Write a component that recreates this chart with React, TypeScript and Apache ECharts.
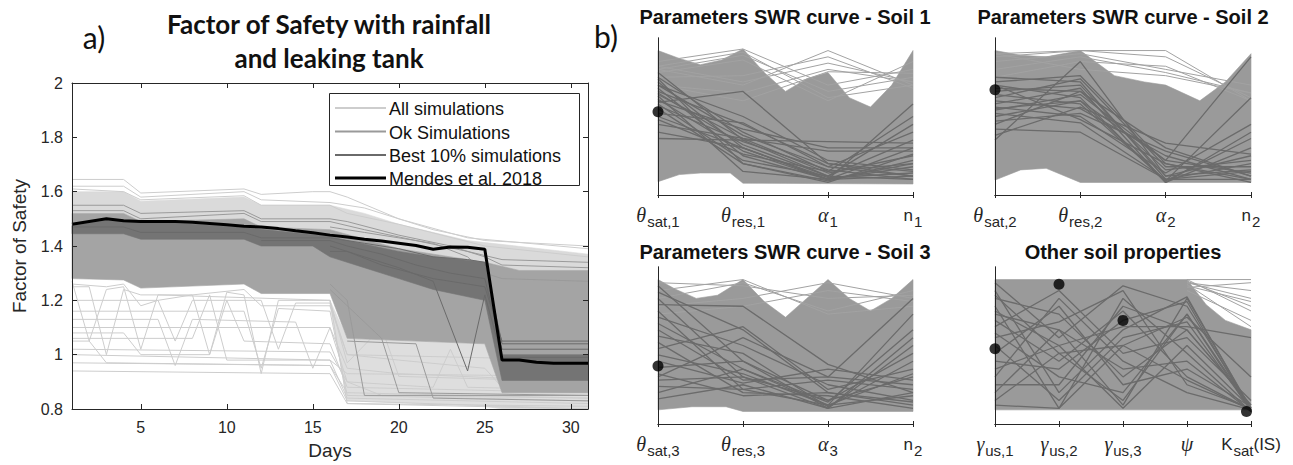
import { useEffect, useRef } from "react";
import * as echarts from "echarts";

// ---------------- Panel a) : Factor of Safety ----------------
const dayTicks = [5, 10, 15, 20, 25, 30];
const fsTicksFmt = (v: number) => String(+v.toFixed(1));

const mendes = [1.48, 1.49, 1.5, 1.493, 1.49, 1.49, 1.49, 1.487, 1.483, 1.478, 1.473, 1.47, 1.464, 1.456, 1.449, 1.44, 1.433, 1.425, 1.418, 1.41, 1.402, 1.388, 1.396, 1.395, 1.388, 0.98, 0.98, 0.972, 0.968, 0.968, 0.968];

// envelopes of the simulation clouds ([day, FS])
const allUpperTop = [[1, 1.6], [4, 1.6], [5, 1.565], [11, 1.58], [12, 1.55], [16, 1.55], [18, 1.52], [20, 1.48], [24, 1.42], [31, 1.37]];
const okTop = [[1, 1.52], [4, 1.52], [5, 1.49], [11, 1.5], [12, 1.47], [16, 1.46], [20, 1.39], [25, 1.34], [27, 1.31], [31, 1.31]];
const okBottom = [[1, 1.28], [4, 1.275], [5, 1.245], [11, 1.26], [12, 1.225], [16, 1.225], [17, 1.06], [25, 1.04], [26, 0.86], [31, 0.86]];
const allLowerTop = [[16, 1.2], [17, 1.06], [25, 1.04], [26, 0.86], [31, 0.86]];
const allLowerBottom = [[16, 1.18], [17, 0.83], [25, 0.81], [26, 0.8], [31, 0.8]];
const bestTop = [[1, 1.475], [3, 1.495], [7, 1.485], [11, 1.468], [16, 1.435], [17, 1.42], [20, 1.38], [22, 1.36], [25, 1.34], [26, 1.0], [31, 1.0]];
const bestBottom = [[1, 1.445], [4, 1.445], [5, 1.425], [11, 1.425], [12, 1.4], [15, 1.4], [16, 1.36], [18, 1.32], [20, 1.28], [22, 1.24], [25, 1.2], [26, 0.905], [31, 0.905]];

// individual light ("All simulations") lines
const allLines = [
  [[1, 1.645], [4, 1.645], [5, 1.595], [11, 1.61], [12, 1.59], [15, 1.6], [16, 1.6], [17, 1.58], [20, 1.5], [24, 1.43], [31, 1.39]],
  [[1, 1.62], [4, 1.62], [5, 1.58], [11, 1.6], [12, 1.57], [16, 1.56], [18, 1.54], [22, 1.46], [25, 1.42], [31, 1.4]],
  [[1, 1.61], [4, 1.6], [5, 1.57], [11, 1.585], [12, 1.55], [16, 1.55], [17, 1.52], [20, 1.48], [25, 1.4], [31, 1.36]],
  [[1, 1.26], [3, 1.25], [4, 1.26], [5, 1.18], [6, 1.2], [8, 1.22], [11, 1.24], [12, 1.18], [16, 1.18], [17, 1.0], [20, 0.98], [25, 0.95], [26, 0.88], [31, 0.86]],
  [[1, 1.25], [2, 1.25], [3, 1.0], [4, 1.24], [5, 1.22], [8, 1.22], [9, 1.0], [10, 1.23], [11, 1.22], [12, 0.93], [13, 1.2], [16, 1.2], [17, 0.82], [31, 0.8]],
  [[1, 1.13], [6, 1.13], [7, 0.96], [8, 1.13], [14, 1.12], [15, 0.95], [16, 1.1], [17, 0.9], [19, 0.85], [31, 0.84]],
  [[1, 1.1], [16, 1.1], [17, 0.95], [20, 0.93], [31, 0.9]],
  [[1, 1.08], [4, 1.08], [5, 1.0], [9, 1.0], [10, 1.2], [11, 1.05], [16, 1.04], [17, 0.88], [31, 0.86]],
  [[1, 1.05], [2, 1.05], [3, 0.97], [16, 0.96], [17, 0.83], [31, 0.8]],
  [[1, 1.02], [16, 1.01], [17, 0.9], [22, 0.88], [23, 1.02], [24, 0.88], [31, 0.87]],
  [[1, 1.0], [16, 0.98], [17, 0.93], [31, 0.92]],
  [[1, 0.97], [16, 0.96], [17, 0.86], [31, 0.84]],
  [[1, 0.94], [16, 0.93], [17, 0.82], [31, 0.81]],
  [[1, 1.2], [6, 1.2], [7, 1.05], [8, 1.2], [12, 1.2], [13, 1.02], [14, 1.19], [16, 1.19], [17, 1.0], [31, 0.98]],
  [[1, 1.27], [2, 1.05], [3, 1.24], [4, 1.25], [5, 1.02], [6, 1.22], [16, 1.2], [17, 0.97], [19, 1.1], [20, 0.92], [31, 0.9]],
  [[1, 1.16], [11, 1.16], [12, 0.95], [13, 1.17], [16, 1.16], [17, 0.85], [31, 0.83]],
  [[1, 1.06], [8, 1.06], [9, 1.22], [10, 0.98], [16, 0.98], [17, 0.84], [31, 0.82]],
];
// medium ("Ok Simulations") lines
const okLines = [
  [[1, 1.55], [4, 1.55], [5, 1.52], [11, 1.53], [12, 1.5], [16, 1.5], [17, 1.49], [20, 1.44], [23, 1.4], [25, 1.36], [26, 1.33], [31, 1.32]],
  [[1, 1.53], [4, 1.53], [5, 1.5], [11, 1.52], [12, 1.49], [16, 1.49], [18, 1.46], [21, 1.42], [24, 1.38], [26, 1.35], [31, 1.34]],
  [[16, 1.47], [18, 1.45], [20, 1.43], [22, 1.41], [24, 1.36], [25, 1.3], [26, 1.28], [31, 1.27]],
  [[16, 1.26], [17, 1.2], [18, 0.85], [31, 0.85]],
  [[16, 1.24], [19, 1.06], [20, 0.86], [31, 0.85]],
  [[17, 1.05], [21, 1.04], [22, 0.84], [31, 0.83]],
];
// dark ("Best 10% simulations") lines
const bestLines = [
  [[1, 1.47], [4, 1.47], [5, 1.45], [11, 1.45], [12, 1.43], [16, 1.43], [18, 1.41], [20, 1.39], [22, 1.36], [24, 1.35], [25, 1.34], [26, 1.04], [31, 1.04]],
  [[12, 1.42], [16, 1.42], [17, 1.4], [19, 1.37], [21, 1.33], [23, 1.3], [25, 1.28], [26, 1.02], [31, 1.02]],
  [[16, 1.4], [20, 1.32], [22, 1.27], [24, 0.94], [25, 1.22], [26, 0.99], [31, 0.99]],
  [[16, 1.38], [17, 1.38], [19, 1.33], [22, 1.28], [25, 1.25], [26, 1.05], [31, 1.05]],
];

const legendNames = ["All simulations", "Ok Simulations", "Best 10% simulations", "Mendes et al. 2018"];

// ---------------- Panel b) : parameter sets (normalised 0-1) ----------------
const soil1Labels = ["{g|θ}{s|sat,1}", "{g|θ}{s|res,1}", "{g|α}{s|1}", "{n|n}{s|1}"];
const soil2Labels = ["{g|θ}{s|sat,2}", "{g|θ}{s|res,2}", "{g|α}{s|2}", "{n|n}{s|2}"];
const soil3Labels = ["{g|θ}{s|sat,3}", "{g|θ}{s|res,3}", "{g|α}{s|3}", "{n|n}{s|2}"];
const otherLabels = ["{g|γ}{s|us,1}", "{g|γ}{s|us,2}", "{g|γ}{s|us,3}", "{g|ψ}", "{n|K}{s|sat}{n|(IS)}"];

const soil1FillTop = [[0, 0.92], [0.25, 0.87], [0.5, 0.83], [0.75, 0.86], [1, 0.93], [1.25, 0.78], [1.5, 0.66], [1.75, 0.74], [2, 0.78], [2.25, 0.62], [2.5, 0.56], [2.75, 0.7], [3, 0.92]];
const soil1FillBottom = [[0, 0.085], [0.25, 0.13], [0.5, 0.14], [0.85, 0.14], [1, 0.075], [3, 0.07]];
const soil1Light = [[0.85, 0.93, 0.7, 0.8], [0.82, 0.91, 0.62, 0.7], [0.8, 0.89, 0.66, 0.75], [0.78, 0.86, 0.6, 0.85], [0.8, 0.7, 0.92, 0.7], [0.75, 0.76, 0.88, 0.68], [0.82, 0.72, 0.84, 0.72], [0.7, 0.65, 0.8, 0.72], [0.7, 0.6, 0.785, 0.775]];
const soil1Best = [[0.78, 0.35, 0.12, 0.1], [0.75, 0.4, 0.15, 0.2], [0.72, 0.3, 0.1, 0.58], [0.7, 0.38, 0.18, 0.12], [0.68, 0.25, 0.1, 0.3], [0.66, 0.45, 0.2, 0.15], [0.65, 0.32, 0.12, 0.45], [0.64, 0.36, 0.14, 0.25], [0.59, 0.66, 0.2, 0.12], [0.61, 0.28, 0.1, 0.18], [0.6, 0.42, 0.3, 0.3], [0.58, 0.22, 0.12, 0.35], [0.57, 0.34, 0.16, 0.1], [0.55, 0.2, 0.09, 0.22], [0.52, 0.46, 0.18, 0.4], [0.5, 0.3, 0.11, 0.14], [0.48, 0.26, 0.15, 0.5], [0.45, 0.36, 0.28, 0.28], [0.4, 0.3, 0.1, 0.2], [0.36, 0.35, 0.34, 0.33], [0.63, 0.15, 0.1, 0.12], [0.7, 0.5, 0.22, 0.16], [0.74, 0.2, 0.08, 0.26]];
const soil1Ref = [[0, 0.53]];

const soil2FillTop = [[0, 0.92], [0.3, 0.89], [0.6, 0.88], [1, 0.92], [1.4, 0.76], [1.75, 0.72], [2, 0.7], [2.4, 0.6], [2.7, 0.72], [3, 0.9]];
const soil2FillBottom = [[0, 0.095], [0.3, 0.16], [0.6, 0.17], [1, 0.08], [3, 0.08]];
const soil2Light = [[0.9, 0.92, 0.92, 0.6], [0.85, 0.9, 0.8, 0.7], [0.8, 0.88, 0.78, 0.65], [0.75, 0.85, 0.82, 0.6], [0.9, 0.8, 0.76, 0.65], [0.88, 0.92, 0.88, 0.62]];
const soil2Best = [[0.75, 0.72, 0.1, 0.15], [0.72, 0.76, 0.2, 0.1], [0.7, 0.62, 0.08, 0.4], [0.68, 0.66, 0.3, 0.12], [0.66, 0.7, 0.12, 0.25], [0.64, 0.58, 0.09, 0.62], [0.62, 0.74, 0.18, 0.18], [0.6, 0.55, 0.25, 0.1], [0.58, 0.68, 0.08, 0.3], [0.56, 0.5, 0.14, 0.45], [0.54, 0.64, 0.22, 0.14], [0.52, 0.46, 0.1, 0.2], [0.5, 0.6, 0.09, 0.36], [0.47, 0.52, 0.28, 0.12], [0.45, 0.66, 0.16, 0.22], [0.42, 0.4, 0.1, 0.1], [0.38, 0.56, 0.33, 0.26], [0.35, 0.85, 0.12, 0.16], [0.7, 0.48, 0.2, 0.08], [0.55, 0.6, 0.22, 0.88]];
const soil2Ref = [[0, 0.67]];

const soil3FillTop = [[0, 0.92], [0.2, 0.86], [0.45, 0.8], [0.7, 0.82], [1, 0.92], [1.25, 0.78], [1.5, 0.68], [1.75, 0.8], [2, 0.92], [2.25, 0.8], [2.5, 0.72], [2.75, 0.8], [3, 0.92]];
const soil3FillBottom = [[0, 0.09], [0.4, 0.11], [0.8, 0.11], [1, 0.08], [3, 0.08]];
const soil3Light = [[0.85, 0.92, 0.7, 0.75], [0.8, 0.9, 0.72, 0.85], [0.9, 0.88, 0.8, 0.82], [0.75, 0.8, 0.9, 0.8], [0.7, 0.75, 0.85, 0.78]];
const soil3Best = [[0.88, 0.4, 0.15, 0.3], [0.84, 0.6, 0.2, 0.12], [0.8, 0.3, 0.1, 0.5], [0.76, 0.75, 0.38, 0.2], [0.72, 0.22, 0.12, 0.7], [0.68, 0.5, 0.25, 0.15], [0.64, 0.35, 0.14, 0.6], [0.6, 0.28, 0.3, 0.25], [0.56, 0.45, 0.11, 0.4], [0.52, 0.2, 0.18, 0.1], [0.48, 0.62, 0.22, 0.35], [0.44, 0.32, 0.12, 0.18], [0.4, 0.26, 0.35, 0.28], [0.36, 0.4, 0.1, 0.55], [0.32, 0.18, 0.2, 0.14], [0.28, 0.3, 0.15, 0.45], [0.24, 0.22, 0.28, 0.22], [0.2, 0.35, 0.12, 0.32], [0.16, 0.25, 0.1, 0.2], [0.3, 0.55, 0.3, 0.8]];
const soil3Ref = [[0, 0.37]];

const otherFillTop = [[0, 0.92], [1, 0.92], [2, 0.92], [3, 0.92], [3.3, 0.76], [3.6, 0.66], [4, 0.6]];
const otherFillBottom = [[0, 0.09], [4, 0.09]];
const otherLightPsiK = [[0.92, 0.92], [0.9, 0.85], [0.88, 0.78], [0.92, 0.72], [0.85, 0.66], [0.9, 0.8], [0.87, 0.9], [0.91, 0.75], [0.89, 0.62]];
const otherBest = [[0.9, 0.55, 0.88, 0.75, 0.1], [0.85, 0.2, 0.6, 0.81, 0.09], [0.8, 0.7, 0.3, 0.6, 0.12], [0.75, 0.1, 0.8, 0.45, 0.08], [0.7, 0.6, 0.12, 0.8, 0.1], [0.66, 0.4, 0.72, 0.3, 0.09], [0.62, 0.85, 0.45, 0.55, 0.15], [0.58, 0.3, 0.2, 0.7, 0.08], [0.55, 0.65, 0.85, 0.25, 0.1], [0.5, 0.15, 0.55, 0.65, 0.09], [0.45, 0.75, 0.25, 0.35, 0.11], [0.4, 0.35, 0.66, 0.78, 0.08], [0.35, 0.5, 0.1, 0.5, 0.1], [0.3, 0.8, 0.4, 0.2, 0.09], [0.25, 0.25, 0.75, 0.6, 0.12], [0.2, 0.6, 0.35, 0.4, 0.08], [0.15, 0.45, 0.15, 0.7, 0.1], [0.12, 0.1, 0.5, 0.28, 0.09], [0.72, 0.5, 0.62, 0.62, 0.55], [0.82, 0.45, 0.5, 0.68, 0.3]];
const otherRef = [[0, 0.48], [1, 0.89], [2, 0.66], [3.93, 0.08]];

// ---------------- styling ----------------
const C_TEXT = "#262626";
const C_ALL_BAND = "#dadada";
const C_ALL = "#cdcdcd";
const C_OK_BAND = "#a4a4a4";
const C_OK = "#9a9a9a";
const C_BEST_BAND = "#747474";
const C_BEST = "#6a6a6a";
const C_FILL = "#9a9a9a";
const C_FILL_LINE = "#a2a2a2";
const C_PBEST = "#6b6b6b";
const SANS = "'Liberation Sans', Arial, sans-serif";
const SERIF = "'Liberation Serif', 'Times New Roman', serif";
const LATO = "Lato, 'Open Sans', sans-serif";

function band(upper: number[][], lower: number[][], color: string, xi: number, yi: number, z = 2) {
  return {
    type: "custom",
    xAxisIndex: xi,
    yAxisIndex: yi,
    silent: true,
    z,
    data: [[upper[0][0], upper[0][1]]],
    renderItem: (_p: any, api: any) => {
      const pts = upper.map((p) => api.coord(p)).concat(lower.slice().reverse().map((p) => api.coord(p)));
      return { type: "polygon", shape: { points: pts }, style: { fill: color, stroke: color, lineWidth: 0.6 } };
    },
  };
}

function line(data: number[][], color: string, width: number, xi: number, yi: number, z = 3, name?: string) {
  return {
    type: "line",
    name,
    data,
    xAxisIndex: xi,
    yAxisIndex: yi,
    symbol: "none",
    silent: true,
    z,
    lineStyle: { color, width },
    itemStyle: { color },
  };
}

const toPts = (vals: number[]) => vals.map((v, i) => [i, v]);

const richLabel = {
  g: { fontFamily: SERIF, fontStyle: "italic", fontSize: 20, color: C_TEXT, lineHeight: 22 },
  s: { fontFamily: SANS, fontSize: 15, color: C_TEXT, lineHeight: 15, padding: [12, 0, 0, 1] },
  n: { fontFamily: SANS, fontSize: 17, color: C_TEXT, lineHeight: 22 },
};

function buildOption() {
  const subGrids = [
    { left: 658, top: 38, width: 255, height: 157 },
    { left: 995, top: 38, width: 256, height: 157 },
    { left: 658, top: 267, width: 255, height: 157 },
    { left: 995, top: 267, width: 256, height: 157 },
  ];
  const subLabels = [soil1Labels, soil2Labels, soil3Labels, otherLabels];
  const grids: any[] = [{ left: 72, top: 83, width: 516, height: 328 }, ...subGrids];

  const axLine = { show: true, lineStyle: { color: C_TEXT, width: 1 } };
  const xAxis: any[] = [
    {
      type: "value", gridIndex: 0, min: 1, max: 31, position: "bottom", z: 10,
      axisLine: axLine, splitLine: { show: false },
      axisTick: { inside: true, length: 5, customValues: dayTicks, lineStyle: { color: C_TEXT } },
      axisLabel: { customValues: dayTicks, color: C_TEXT, fontSize: 16, fontFamily: SANS, margin: 10 },
      name: "Days", nameLocation: "middle", nameGap: 32,
      nameTextStyle: { color: C_TEXT, fontSize: 19, fontFamily: SANS },
    },
    {
      type: "value", gridIndex: 0, min: 1, max: 31, position: "top", z: 10,
      axisLine: axLine, splitLine: { show: false },
      axisTick: { inside: true, length: 5, customValues: dayTicks, lineStyle: { color: C_TEXT } },
      axisLabel: { show: false },
    },
  ];
  const yAxis: any[] = [
    {
      type: "value", gridIndex: 0, min: 0.8, max: 2, interval: 0.2, position: "left", z: 10,
      axisLine: axLine, splitLine: { show: false },
      axisTick: { inside: true, length: 5, lineStyle: { color: C_TEXT } },
      axisLabel: { color: C_TEXT, fontSize: 16, fontFamily: SANS, margin: 9, formatter: fsTicksFmt },
      name: "Factor of Safety", nameLocation: "middle", nameGap: 43,
      nameTextStyle: { color: C_TEXT, fontSize: 19, fontFamily: SANS },
    },
    {
      type: "value", gridIndex: 0, min: 0.8, max: 2, interval: 0.2, position: "right", z: 10,
      axisLine: axLine, splitLine: { show: false },
      axisTick: { inside: true, length: 5, lineStyle: { color: C_TEXT } },
      axisLabel: { show: false },
    },
  ];
  subGrids.forEach((_g, k) => {
    const labels = subLabels[k];
    const mx = labels.length - 1;
    xAxis.push({
      type: "value", gridIndex: k + 1, min: 0, max: mx, interval: 1, position: "bottom", z: 10,
      axisLine: axLine, splitLine: { show: false },
      axisTick: { inside: true, length: 3, lineStyle: { color: C_TEXT } },
      axisLabel: {
        color: C_TEXT, margin: 9, showMinLabel: true, showMaxLabel: true, hideOverlap: false,
        formatter: (v: number) => labels[Math.round(v)],
        rich: richLabel,
      },
    });
    xAxis.push({
      type: "value", gridIndex: k + 1, min: 0, max: mx, interval: 1, position: "top", z: 10,
      axisLine: axLine, splitLine: { show: false },
      axisTick: { inside: true, length: 3, lineStyle: { color: C_TEXT } },
      axisLabel: { show: false },
    });
    yAxis.push({
      type: "value", gridIndex: k + 1, min: 0, max: 1, position: "left", z: 10,
      axisLine: axLine, splitLine: { show: false }, axisTick: { show: false }, axisLabel: { show: false },
    });
    yAxis.push({
      type: "value", gridIndex: k + 1, min: 0, max: 1, position: "right", z: 10,
      axisLine: axLine, splitLine: { show: false }, axisTick: { show: false }, axisLabel: { show: false },
    });
  });

  const series: any[] = [];
  // ---- panel a
  series.push(band(allUpperTop, okTop, C_ALL_BAND, 0, 0, 1));
  series.push(band(allLowerTop, allLowerBottom, "#dedede", 0, 0, 1));
  allLines.forEach((d) => series.push(line(d, C_ALL, 1, 0, 0, 2)));
  series.push(band(okTop, okBottom, C_OK_BAND, 0, 0, 3));
  okLines.forEach((d) => series.push(line(d, C_OK, 1, 0, 0, 3)));
  series.push(band(bestTop, bestBottom, C_BEST_BAND, 0, 0, 4));
  bestLines.forEach((d) => series.push(line(d, C_BEST, 1, 0, 0, 4)));
  series.push(line(mendes.map((v, i) => [i + 1, v]), "#000000", 3, 0, 0, 6, legendNames[3]));

  // ---- panel b
  const panels = [
    { top: soil1FillTop, bot: soil1FillBottom, light: soil1Light, best: soil1Best, ref: soil1Ref },
    { top: soil2FillTop, bot: soil2FillBottom, light: soil2Light, best: soil2Best, ref: soil2Ref },
    { top: soil3FillTop, bot: soil3FillBottom, light: soil3Light, best: soil3Best, ref: soil3Ref },
    { top: otherFillTop, bot: otherFillBottom, light: [], best: otherBest, ref: otherRef },
  ];
  panels.forEach((p, k) => {
    const xi = 2 + 2 * k;
    const yi = 2 + 2 * k;
    series.push(band(p.top, p.bot, C_FILL, xi, yi, 1));
    p.light.forEach((d) => series.push(line(toPts(d), C_FILL_LINE, 1, xi, yi, 2)));
    if (k === 3) otherLightPsiK.forEach((d) => series.push(line([[3, d[0]], [4, d[1]]], C_FILL_LINE, 1, xi, yi, 2)));
    p.best.forEach((d) => series.push(line(toPts(d), C_PBEST, 1.3, xi, yi, 3)));
    series.push({
      type: "scatter", xAxisIndex: xi, yAxisIndex: yi, data: p.ref, symbolSize: 11, clip: false, silent: true, z: 12,
      itemStyle: { color: "#000000" },
    });
  });

  const txt = (x: number, y: number, text: string, font: string, align = "center") => ({
    type: "text", x, y, silent: true, z: 30,
    style: { text, fill: "#111111", font, textAlign: align, textVerticalAlign: "middle" },
  });

  // legend drawn as graphic (box, sample lines, texts)
  const legendColors = [C_ALL, C_OK, C_BEST, "#000000"];
  const legendWidths = [2, 2, 2, 3];
  const legendRowsY = [108, 131.5, 155, 178];
  const legendGraphic: any[] = [
    { type: "rect", z: 29, silent: true, shape: { x: 329.5, y: 93.5, width: 250, height: 92 }, style: { fill: "#ffffff", stroke: C_TEXT, lineWidth: 1 } },
  ];
  legendNames.forEach((nm, i) => {
    legendGraphic.push({ type: "line", z: 30, silent: true, shape: { x1: 335, y1: legendRowsY[i], x2: 386, y2: legendRowsY[i] }, style: { stroke: legendColors[i], lineWidth: legendWidths[i] } });
    legendGraphic.push(txt(389, legendRowsY[i] + 1, nm, `18px ${SANS}`, "left"));
  });

  return {
    animation: false,
    backgroundColor: "#ffffff",
    grid: grids,
    xAxis,
    yAxis,
    graphic: [
      txt(94, 37, "a)", `30px ${LATO}`),
      txt(329, 24, "Factor of Safety with rainfall", `bold 26px ${LATO}`),
      txt(329, 58, "and leaking tank", `bold 26px ${LATO}`),
      txt(606, 36, "b)", `30px ${LATO}`),
      txt(785, 17, "Parameters SWR curve - Soil 1", `bold 20px ${SANS}`),
      txt(1123, 17, "Parameters SWR curve - Soil 2", `bold 20px ${SANS}`),
      txt(785, 252, "Parameters SWR curve - Soil 3", `bold 20px ${SANS}`),
      txt(1123, 252, "Other soil properties", `bold 20px ${SANS}`),
      ...legendGraphic,
    ],
    series,
  };
}

export default function App() {
  const ref = useRef<HTMLDivElement>(null);
  useEffect(() => {
    if (!ref.current) return;
    const chart = echarts.init(ref.current, null, { renderer: "svg" });
    chart.setOption(buildOption() as any);
    return () => chart.dispose();
  }, []);
  return (
    <div
      ref={ref}
      style={{ position: "fixed", left: 0, top: 0, width: 1293, height: 465, background: "#ffffff" }}
    />
  );
}
